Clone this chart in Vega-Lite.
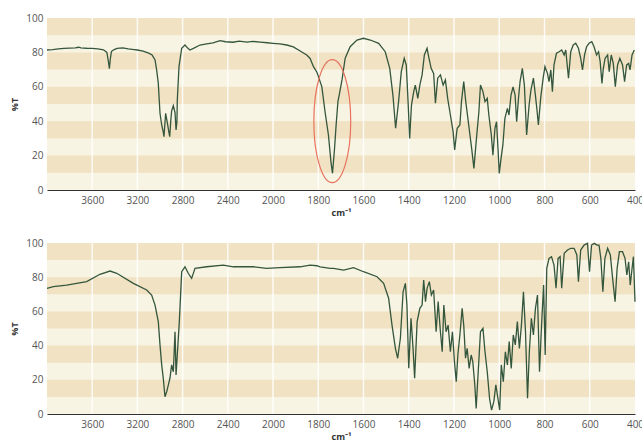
{
  "$schema": "https://vega.github.io/schema/vega-lite/v6.json",
  "background": "white",
  "padding": {"left": 10, "top": 13, "right": 0, "bottom": 0},
  "spacing": 21,
  "config": {
    "view": {"fill": "#f8f4e3", "stroke": null},
    "font": "Open Sans"
  },
  "datasets": {
    "bands": [
      {"wn": 4000, "wn2": 400, "t": 10, "t2": 20},
      {"wn": 4000, "wn2": 400, "t": 30, "t2": 40},
      {"wn": 4000, "wn2": 400, "t": 50, "t2": 60},
      {"wn": 4000, "wn2": 400, "t": 70, "t2": 80},
      {"wn": 4000, "wn2": 400, "t": 90, "t2": 100}
    ],
    "grid": [
      {"wn": 3600, "t": 0, "t2": 100}, {"wn": 3200, "t": 0, "t2": 100}, {"wn": 2800, "t": 0, "t2": 100},
      {"wn": 2400, "t": 0, "t2": 100}, {"wn": 2000, "t": 0, "t2": 100}, {"wn": 1800, "t": 0, "t2": 100},
      {"wn": 1600, "t": 0, "t2": 100}, {"wn": 1400, "t": 0, "t2": 100}, {"wn": 1200, "t": 0, "t2": 100},
      {"wn": 1000, "t": 0, "t2": 100}, {"wn": 800, "t": 0, "t2": 100}, {"wn": 600, "t": 0, "t2": 100}
    ],
    "mark": [{"wn": 1738, "t": 40}],
    "top": [
      {"wn":4000,"t":81.4},{"wn":3950,"t":81.6},{"wn":3900,"t":82},{"wn":3850,"t":82.3},{"wn":3800,"t":82.5},
      {"wn":3750,"t":82.6},{"wn":3720,"t":83},{"wn":3700,"t":82.6},{"wn":3650,"t":82.4},{"wn":3600,"t":82.3},
      {"wn":3550,"t":82},{"wn":3500,"t":81.5},{"wn":3470,"t":80},{"wn":3455,"t":74},{"wn":3448,"t":70.5},
      {"wn":3440,"t":76},{"wn":3430,"t":80.5},{"wn":3410,"t":81.5},{"wn":3380,"t":82.3},{"wn":3330,"t":82.6},
      {"wn":3280,"t":82},{"wn":3230,"t":81.6},{"wn":3200,"t":81.4},{"wn":3150,"t":80.8},{"wn":3100,"t":79.6},
      {"wn":3070,"t":78.5},{"wn":3044,"t":75.6},{"wn":3030,"t":70},{"wn":3015,"t":62},{"wn":3000,"t":44.6},
      {"wn":2985,"t":37.8},{"wn":2972,"t":34},{"wn":2965,"t":31},{"wn":2950,"t":44.6},{"wn":2932,"t":37.8},
      {"wn":2920,"t":33},{"wn":2914,"t":31},{"wn":2905,"t":40},{"wn":2897,"t":46},{"wn":2882,"t":49},
      {"wn":2867,"t":45},{"wn":2858,"t":34.9},{"wn":2850,"t":40},{"wn":2847,"t":52},{"wn":2832,"t":71.7},
      {"wn":2808,"t":82.4},{"wn":2779,"t":84.3},{"wn":2755,"t":82.5},{"wn":2735,"t":81.4},{"wn":2700,"t":82.5},
      {"wn":2646,"t":84.3},{"wn":2600,"t":84.8},{"wn":2531,"t":85.6},{"wn":2469,"t":86.8},{"wn":2420,"t":86.2},
      {"wn":2354,"t":85.9},{"wn":2300,"t":86.5},{"wn":2230,"t":86},{"wn":2180,"t":86.4},{"wn":2115,"t":86},
      {"wn":2050,"t":85.6},{"wn":2000,"t":85.3},{"wn":1970,"t":84.9},{"wn":1939,"t":84.3},{"wn":1910,"t":83.2},
      {"wn":1880,"t":80.8},{"wn":1851,"t":78.5},{"wn":1836,"t":76.5},{"wn":1821,"t":71.7},{"wn":1806,"t":68.5},
      {"wn":1799,"t":65.9},{"wn":1784,"t":60},{"wn":1770,"t":45.5},{"wn":1755,"t":32},{"wn":1744,"t":16.5},
      {"wn":1737,"t":9.7},{"wn":1728,"t":24},{"wn":1721,"t":37.8},{"wn":1713,"t":51.4},{"wn":1706,"t":56.2},
      {"wn":1695,"t":64},{"wn":1681,"t":76.6},{"wn":1659,"t":83.3},{"wn":1629,"t":87.2},{"wn":1600,"t":88.2},
      {"wn":1570,"t":87.2},{"wn":1533,"t":85.3},{"wn":1504,"t":80.4},{"wn":1484,"t":70.7},{"wn":1470,"t":55.2},
      {"wn":1458,"t":35.9},{"wn":1445,"t":51.4},{"wn":1433,"t":68.8},{"wn":1420,"t":76.6},{"wn":1411,"t":72.7},
      {"wn":1403,"t":51.4},{"wn":1396,"t":30},{"wn":1388,"t":49.4},{"wn":1378,"t":57.2},{"wn":1371,"t":61},
      {"wn":1360,"t":53.3},{"wn":1351,"t":61},{"wn":1341,"t":66.9},{"wn":1331,"t":78.5},{"wn":1319,"t":82.4},
      {"wn":1312,"t":77.5},{"wn":1301,"t":70.7},{"wn":1290,"t":67.8},{"wn":1282,"t":50.4},{"wn":1272,"t":65},
      {"wn":1260,"t":66.9},{"wn":1248,"t":61},{"wn":1238,"t":64},{"wn":1228,"t":53.3},{"wn":1216,"t":43.6},
      {"wn":1204,"t":33.9},{"wn":1197,"t":23.3},{"wn":1186,"t":35.9},{"wn":1174,"t":37.8},{"wn":1167,"t":51.4},
      {"wn":1157,"t":63},{"wn":1148,"t":51.4},{"wn":1135,"t":37.8},{"wn":1122,"t":24.2},{"wn":1112,"t":12.6},
      {"wn":1102,"t":28.1},{"wn":1090,"t":45.5},{"wn":1083,"t":61},{"wn":1072,"t":57.2},{"wn":1063,"t":51.4},
      {"wn":1053,"t":53.3},{"wn":1046,"t":43.6},{"wn":1035,"t":32},{"wn":1028,"t":20.3},{"wn":1019,"t":35.9},
      {"wn":1012,"t":39.7},{"wn":1004,"t":20.3},{"wn":1000,"t":9.7},{"wn":992,"t":18.4},{"wn":984,"t":26.2},
      {"wn":975,"t":41.7},{"wn":964,"t":47.5},{"wn":957,"t":43.6},{"wn":948,"t":55.2},{"wn":939,"t":60},
      {"wn":930,"t":55.2},{"wn":923,"t":39.7},{"wn":915,"t":53.3},{"wn":908,"t":63},{"wn":898,"t":70.7},
      {"wn":889,"t":61},{"wn":879,"t":32},{"wn":868,"t":49.4},{"wn":860,"t":58.1},{"wn":849,"t":65},
      {"wn":842,"t":57.2},{"wn":834,"t":47.5},{"wn":827,"t":37.8},{"wn":817,"t":53.3},{"wn":806,"t":65},
      {"wn":798,"t":71.7},{"wn":787,"t":67.8},{"wn":780,"t":63},{"wn":772,"t":69.8},{"wn":765,"t":57.2},
      {"wn":758,"t":72.7},{"wn":747,"t":79.5},{"wn":735,"t":80.4},{"wn":724,"t":81.4},{"wn":713,"t":78.5},
      {"wn":706,"t":81.4},{"wn":694,"t":65},{"wn":684,"t":80.4},{"wn":673,"t":84.3},{"wn":662,"t":85.3},
      {"wn":650,"t":82.4},{"wn":640,"t":76.6},{"wn":632,"t":69.8},{"wn":623,"t":78.5},{"wn":614,"t":83.3},
      {"wn":603,"t":85.3},{"wn":591,"t":86.2},{"wn":581,"t":83.3},{"wn":570,"t":78.5},{"wn":561,"t":80.4},
      {"wn":554,"t":74.6},{"wn":546,"t":62},{"wn":540,"t":70.7},{"wn":532,"t":76.6},{"wn":521,"t":78.5},
      {"wn":514,"t":68.8},{"wn":505,"t":78.5},{"wn":496,"t":73.6},{"wn":487,"t":60},{"wn":477,"t":72.7},
      {"wn":467,"t":76.6},{"wn":455,"t":72.7},{"wn":446,"t":63},{"wn":437,"t":72.7},{"wn":428,"t":73.6},
      {"wn":422,"t":69.8},{"wn":413,"t":78.5},{"wn":403,"t":81.4}
    ],
    "bottom": [
      {"wn":4000,"t":73.5},{"wn":3944,"t":74.5},{"wn":3826,"t":75.4},{"wn":3649,"t":77.4},{"wn":3531,"t":81.7},
      {"wn":3442,"t":83.6},{"wn":3383,"t":82.3},{"wn":3236,"t":76.4},{"wn":3118,"t":72.5},{"wn":3074,"t":69.6},
      {"wn":3044,"t":63.7},{"wn":3015,"t":54},{"wn":3000,"t":40.4},{"wn":2985,"t":28.7},{"wn":2971,"t":20.9},
      {"wn":2956,"t":10.1},{"wn":2941,"t":13},{"wn":2926,"t":17},{"wn":2912,"t":20.9},{"wn":2897,"t":28.7},
      {"wn":2882,"t":24.7},{"wn":2867,"t":48.1},{"wn":2858,"t":22.8},{"wn":2847,"t":34.5},{"wn":2829,"t":54},
      {"wn":2808,"t":83.2},{"wn":2779,"t":86.1},{"wn":2750,"t":82.3},{"wn":2720,"t":79.3},{"wn":2690,"t":85.2},
      {"wn":2587,"t":86.1},{"wn":2440,"t":87.1},{"wn":2351,"t":86.1},{"wn":2174,"t":86.1},{"wn":2056,"t":85.2},
      {"wn":1969,"t":85.6},{"wn":1880,"t":86.1},{"wn":1836,"t":87.1},{"wn":1806,"t":86.7},{"wn":1792,"t":86.1},
      {"wn":1747,"t":85.2},{"wn":1733,"t":85.2},{"wn":1688,"t":84.2},{"wn":1644,"t":85.6},{"wn":1600,"t":83.2},
      {"wn":1540,"t":80.3},{"wn":1511,"t":76.4},{"wn":1489,"t":67.7},{"wn":1474,"t":52},{"wn":1459,"t":38.4},
      {"wn":1449,"t":32.6},{"wn":1437,"t":44.3},{"wn":1425,"t":71.5},{"wn":1415,"t":76.4},{"wn":1408,"t":63.7},
      {"wn":1400,"t":26.7},{"wn":1390,"t":56},{"wn":1381,"t":38.4},{"wn":1374,"t":20.9},{"wn":1363,"t":54},
      {"wn":1351,"t":61.8},{"wn":1341,"t":63.7},{"wn":1334,"t":78.4},{"wn":1326,"t":65.7},{"wn":1319,"t":73.5},
      {"wn":1309,"t":77.4},{"wn":1300,"t":69.6},{"wn":1290,"t":72.5},{"wn":1279,"t":48.1},{"wn":1270,"t":65.7},
      {"wn":1260,"t":48.1},{"wn":1252,"t":36.4},{"wn":1245,"t":63.7},{"wn":1235,"t":48.1},{"wn":1226,"t":52},
      {"wn":1216,"t":36.4},{"wn":1207,"t":48.1},{"wn":1198,"t":30.6},{"wn":1190,"t":18.9},{"wn":1183,"t":34.5},
      {"wn":1174,"t":46.2},{"wn":1164,"t":61.8},{"wn":1157,"t":52},{"wn":1149,"t":32.6},{"wn":1142,"t":38.4},
      {"wn":1133,"t":26.7},{"wn":1124,"t":34.5},{"wn":1117,"t":30.6},{"wn":1108,"t":17},{"wn":1102,"t":3.3},
      {"wn":1093,"t":24.7},{"wn":1083,"t":48.1},{"wn":1072,"t":50.1},{"wn":1063,"t":36.4},{"wn":1053,"t":24.7},
      {"wn":1043,"t":9.2},{"wn":1034,"t":2.3},{"wn":1024,"t":7.2},{"wn":1015,"t":17},{"wn":1006,"t":9.2},
      {"wn":998,"t":2.3},{"wn":991,"t":28.7},{"wn":982,"t":18.9},{"wn":973,"t":36.4},{"wn":964,"t":28.7},
      {"wn":956,"t":42.3},{"wn":947,"t":26.7},{"wn":938,"t":46.2},{"wn":929,"t":40.4},{"wn":920,"t":54},
      {"wn":911,"t":38.4},{"wn":902,"t":52},{"wn":893,"t":71.5},{"wn":884,"t":48.1},{"wn":875,"t":9.2},
      {"wn":867,"t":36.4},{"wn":858,"t":56},{"wn":849,"t":46.2},{"wn":840,"t":61.8},{"wn":831,"t":69.6},
      {"wn":822,"t":24.7},{"wn":813,"t":52},{"wn":804,"t":75.4},{"wn":797,"t":34.5},{"wn":790,"t":85.2},
      {"wn":780,"t":91},{"wn":769,"t":92},{"wn":758,"t":87.1},{"wn":749,"t":73.5},{"wn":740,"t":91},
      {"wn":731,"t":92},{"wn":724,"t":73.5},{"wn":713,"t":94},{"wn":698,"t":95.9},{"wn":684,"t":96.9},
      {"wn":669,"t":96.9},{"wn":657,"t":93},{"wn":650,"t":77.4},{"wn":640,"t":95.9},{"wn":625,"t":98.8},
      {"wn":610,"t":99.8},{"wn":601,"t":83.2},{"wn":592,"t":98.8},{"wn":580,"t":99.8},{"wn":568,"t":98.8},
      {"wn":559,"t":98.8},{"wn":551,"t":91},{"wn":542,"t":71.5},{"wn":533,"t":91},{"wn":521,"t":96.9},
      {"wn":509,"t":93},{"wn":499,"t":79.3},{"wn":488,"t":65.7},{"wn":479,"t":85.2},{"wn":469,"t":94.9},
      {"wn":455,"t":94.9},{"wn":444,"t":91},{"wn":436,"t":81.3},{"wn":428,"t":89},{"wn":421,"t":75.4},
      {"wn":413,"t":85.2},{"wn":407,"t":92},{"wn":400,"t":65.7}
    ]
  },
  "vconcat": [
    {
      "width": 588,
      "height": 172,
      "encoding": {
        "x": {
          "field": "wn", "type": "quantitative",
          "scale": {"domain": [4000, 2000, 400], "range": [0, 226, 588], "nice": false, "zero": false},
          "axis": {
            "values": [3600, 3200, 2800, 2400, 2000, 1800, 1600, 1400, 1200, 1000, 800, 600, 400],
            "format": "d",
            "grid": false, "ticks": false, "domainColor": "#333333", "domainWidth": 1.2,
            "labelColor": "#555555", "labelFontSize": 10, "labelPadding": 5, "labelFlush": false,
            "labelOverlap": false, "labelBound": false,
            "title": "cm⁻¹", "titleFontSize": 9, "titleFontWeight": "bold", "titleColor": "#333333", "titlePadding": 3
          }
        },
        "y": {
          "field": "t", "type": "quantitative",
          "scale": {"domain": [0, 100], "nice": false},
          "axis": {
            "values": [0, 20, 40, 60, 80, 100], "grid": false, "ticks": false, "domain": false,
            "labelColor": "#555555", "labelFontSize": 10, "labelPadding": 4,
            "title": "%T", "titleFontSize": 9, "titleFontWeight": "bold", "titleColor": "#333333", "titlePadding": 6
          }
        }
      },
      "layer": [
        {"data": {"name": "bands"}, "mark": {"type": "rect", "color": "#f0e2c2"}, "encoding": {"x2": {"field": "wn2"}, "y2": {"field": "t2"}}},
        {"data": {"name": "grid"}, "mark": {"type": "rule", "color": "#ffffff", "strokeWidth": 1.5, "opacity": 0.85}, "encoding": {"y2": {"field": "t2"}}},
        {"data": {"name": "top"}, "mark": {"type": "line", "color": "#34563d", "strokeWidth": 1.3}, "encoding": {}},
        {"data": {"name": "mark"}, "mark": {"type": "point", "shape": "M0,-1A0.3,1 0 1,1 0,1A0.3,1 0 1,1 0,-1Z", "size": 15129, "filled": false, "color": "#e8735e", "strokeWidth": 1.2, "opacity": 1}, "encoding": {}}
      ]
    },
    {
      "width": 588,
      "height": 171,
      "encoding": {
        "x": {
          "field": "wn", "type": "quantitative",
          "scale": {"domain": [4000, 2000, 400], "range": [0, 226, 588], "nice": false, "zero": false},
          "axis": {
            "values": [3600, 3200, 2800, 2400, 2000, 1800, 1600, 1400, 1200, 1000, 800, 600, 400],
            "format": "d",
            "grid": false, "ticks": false, "domainColor": "#333333", "domainWidth": 1.2,
            "labelColor": "#555555", "labelFontSize": 10, "labelPadding": 5, "labelFlush": false,
            "labelOverlap": false, "labelBound": false,
            "title": "cm⁻¹", "titleFontSize": 9, "titleFontWeight": "bold", "titleColor": "#333333", "titlePadding": 3
          }
        },
        "y": {
          "field": "t", "type": "quantitative",
          "scale": {"domain": [0, 100], "nice": false},
          "axis": {
            "values": [0, 20, 40, 60, 80, 100], "grid": false, "ticks": false, "domain": false,
            "labelColor": "#555555", "labelFontSize": 10, "labelPadding": 4,
            "title": "%T", "titleFontSize": 9, "titleFontWeight": "bold", "titleColor": "#333333", "titlePadding": 6
          }
        }
      },
      "layer": [
        {"data": {"name": "bands"}, "mark": {"type": "rect", "color": "#f0e2c2"}, "encoding": {"x2": {"field": "wn2"}, "y2": {"field": "t2"}}},
        {"data": {"name": "grid"}, "mark": {"type": "rule", "color": "#ffffff", "strokeWidth": 1.5, "opacity": 0.85}, "encoding": {"y2": {"field": "t2"}}},
        {"data": {"name": "bottom"}, "mark": {"type": "line", "color": "#34563d", "strokeWidth": 1.3}, "encoding": {}}
      ]
    }
  ]
}
